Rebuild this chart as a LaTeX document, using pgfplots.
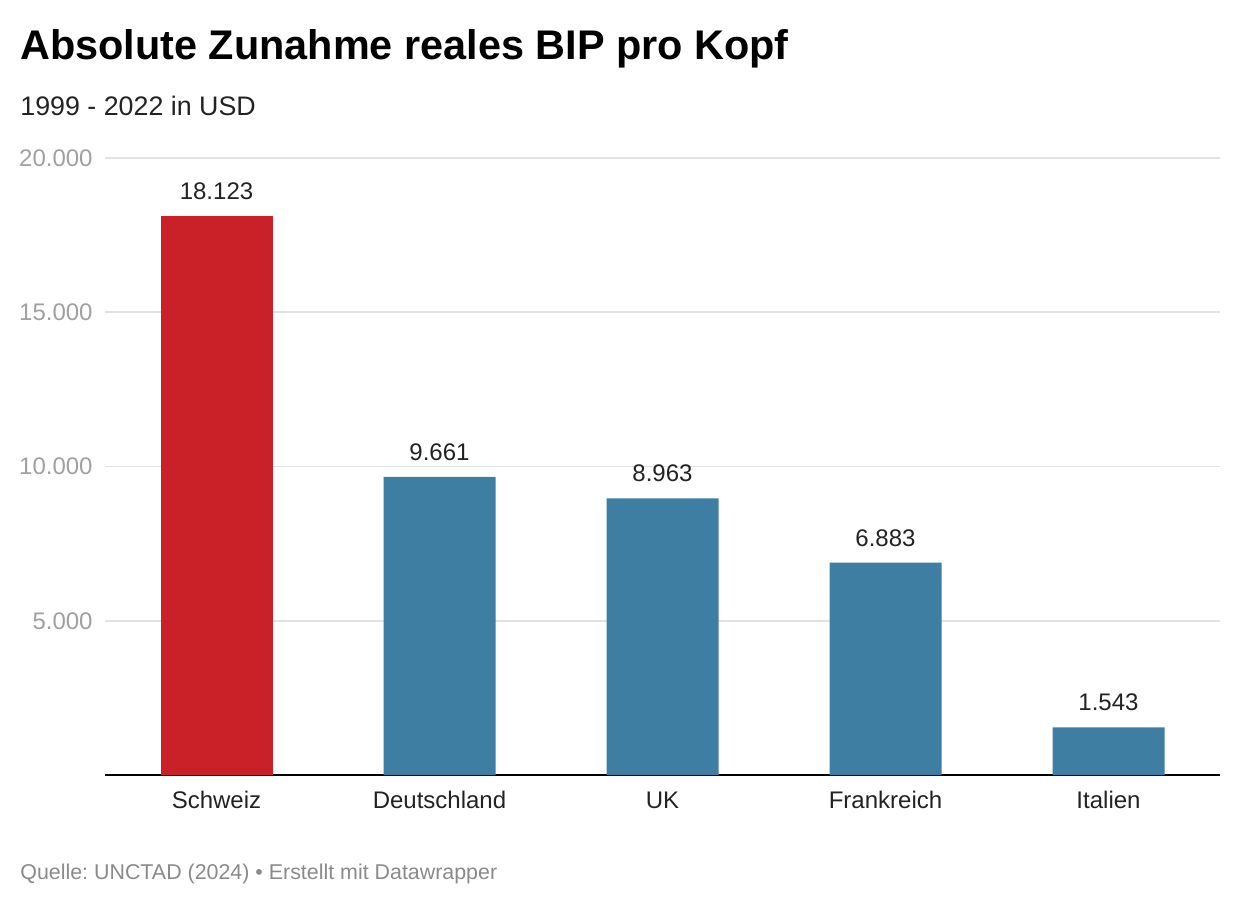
\documentclass[border=0pt]{standalone}
\usepackage{pgfplots}
\pgfplotsset{compat=1.18}
\usepackage{fontspec}
\setmainfont{Liberation Sans}
\frenchspacing
\definecolor{swred}{HTML}{C92127}
\definecolor{debl}{HTML}{3E7EA2}
\definecolor{tickgray}{HTML}{A0A0A0}
\definecolor{srcgray}{HTML}{8A8A8A}
\definecolor{gridgray}{HTML}{E2E2E2}
\definecolor{lbl}{HTML}{222222}
\begin{document}
\begin{tikzpicture}
\path[use as bounding box] (0,0) rectangle (620pt,453pt);
\node[anchor=base west, inner sep=0pt, font=\fontsize{20.7}{25}\selectfont\bfseries] at (10pt,423pt) {Absolute Zunahme reales BIP pro Kopf};
\node[anchor=base west, inner sep=0pt, font=\fontsize{13.4}{16}\selectfont, text=lbl] at (10pt,395pt) {1999 - 2022 in USD};
\node[anchor=base west, inner sep=0pt, font=\fontsize{10.7}{13}\selectfont, text=srcgray] at (10pt,13.5pt) {\frenchspacing Quelle: UNCTAD (2024) • Erstellt mit Datawrapper};
\begin{axis}[
  at={(52.5pt,65.5pt)}, anchor=south west,
  scale only axis, width=557.5pt, height=308.5pt,
  xmin=-0.5, xmax=4.5, ymin=0, ymax=20000,
  axis lines=left,
  axis line style={-},
  y axis line style={draw=none},
  x axis line style={black, line width=0.9pt},
  major tick length=0pt,
  ytick={5000,10000,15000,20000},
  xtick={0,1,2,3,4},
  xticklabels={Schweiz,Deutschland,UK,Frankreich,Italien},
  ymajorgrids,
  grid style={gridgray, line width=0.8pt},
  scaled y ticks=false,
  /pgf/number format/.cd, use comma, 1000 sep={.}, assume math mode=true,
  /pgfplots/.cd,
  yticklabel style={font=\fontsize{12}{14}\selectfont, text=tickgray, anchor=east, inner sep=0pt, xshift=-6pt},
  xticklabel style={font=\fontsize{12}{14}\selectfont, text=lbl, anchor=base, inner sep=0pt, yshift=-16.5pt},
  ybar, bar width=56pt, bar shift=0pt,
  nodes near coords,
  every node near coord/.append style={font=\fontsize{12}{14}\selectfont, text=lbl, anchor=south, inner sep=0pt, yshift=8pt},
  clip=false,
]
\addplot[fill=swred, draw=none] coordinates {(0,18123)};
\addplot[fill=debl, draw=none] coordinates {(1,9661) (2,8963) (3,6883) (4,1543)};
\end{axis}
\end{tikzpicture}
\end{document}
